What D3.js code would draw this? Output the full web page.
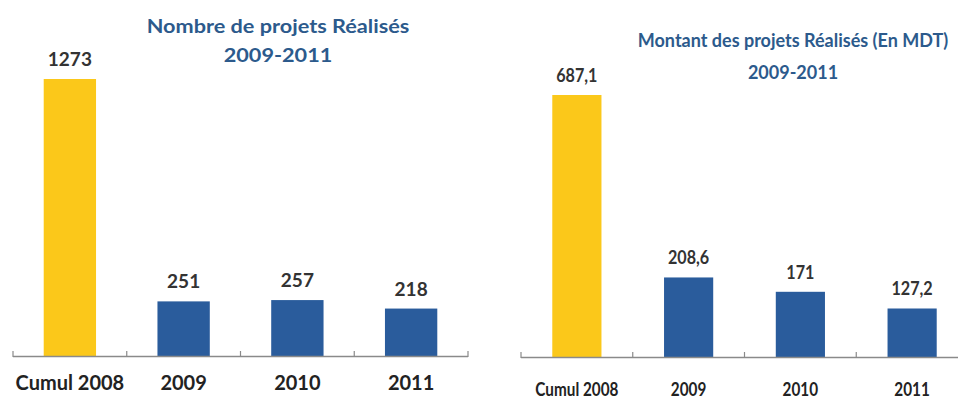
<!DOCTYPE html>
<html>
<head>
<meta charset="utf-8">
<script src="https://cdn.jsdelivr.net/npm/d3@7"></script>
<style>
  body { margin: 0; background: #fff; }
  svg { display: block; font-family: Lato, "Open Sans", sans-serif; font-weight: 700; }
</style>
</head>
<body>
<svg width="958" height="400"></svg>
<script>
const categories = ["Cumul 2008", "2009", "2010", "2011"];
const projectCounts = [1273, 251, 257, 218];
const projectAmounts = [687.1, 208.6, 171, 127.2];
const leftTitle = ["Nombre de projets Réalisés", "2009-2011"];
const rightTitle = ["Montant des projets Réalisés (En MDT)", "2009-2011"];

const yellow = "#fbc81a";
const blue = "#2a5c9c";
const titleColor = "#2c5a8c";

const fr = d3.formatLocale({ decimal: ",", thousands: " ", grouping: [3], currency: ["", ""] });
const fmt = fr.format("~f");

const svg = d3.select("svg");

// stretch / squeeze text horizontally by factor k
const squeeze = (sel, k) => {
  if (k === 1) return;
  sel.each(function () {
    const w = this.getComputedTextLength();
    d3.select(this).attr("textLength", w * k).attr("lengthAdjust", "spacingAndGlyphs");
  });
};

const drawChart = (cfg) => {
  const g = svg.append("g");

  const x = d3.scaleBand().domain(categories).range([cfg.x0, cfg.x1]);
  const y = d3.scaleLinear().domain([0, d3.max(cfg.values)]).range([cfg.base, cfg.top]);
  const barW = x.bandwidth() * cfg.barFrac;

  // bars
  g.selectAll("rect")
    .data(cfg.values)
    .enter()
    .append("rect")
    .attr("x", (d, i) => x(categories[i]) + (x.bandwidth() - barW) / 2)
    .attr("y", (d) => y(d))
    .attr("width", barW)
    .attr("height", (d) => cfg.base - y(d))
    .attr("fill", (d, i) => (i === 0 ? yellow : blue));

  // axis line + ticks
  g.append("line")
    .attr("x1", cfg.x0)
    .attr("x2", cfg.lineEnd)
    .attr("y1", cfg.base + 0.5)
    .attr("y2", cfg.base + 0.5)
    .attr("stroke", "#8a8a8a")
    .attr("stroke-width", 1.5);

  const tickPos = categories.map((c) => x(c)).concat([cfg.x1]);
  g.selectAll(".tick")
    .data(tickPos)
    .enter()
    .append("line")
    .attr("class", "tick")
    .attr("x1", (d) => d)
    .attr("x2", (d) => d)
    .attr("y1", cfg.base - 5)
    .attr("y2", cfg.base + 1)
    .attr("stroke", "#8a8a8a")
    .attr("stroke-width", 1.2);

  // value labels
  const vals = g.selectAll(".val")
    .data(cfg.values)
    .enter()
    .append("text")
    .attr("class", "val")
    .attr("x", (d, i) => x(categories[i]) + x.bandwidth() / 2)
    .attr("y", (d) => y(d) - 13)
    .attr("text-anchor", "middle")
    .attr("font-size", cfg.valSize)
    .attr("fill", "#333")
    .text((d) => fmt(d));
  squeeze(vals, cfg.squeeze);

  // category labels
  const cats = g.selectAll(".cat")
    .data(categories)
    .enter()
    .append("text")
    .attr("class", "cat")
    .attr("x", (d) => x(d) + x.bandwidth() / 2)
    .attr("y", cfg.catY)
    .attr("text-anchor", "middle")
    .attr("font-size", cfg.catSize)
    .attr("fill", "#222")
    .text((d) => d);
  squeeze(cats, cfg.squeeze);

  // title
  const t = g.selectAll(".title")
    .data(cfg.title)
    .enter()
    .append("text")
    .attr("class", "title")
    .attr("x", cfg.titleX)
    .attr("y", (d, i) => cfg.titleY + i * cfg.titleGap)
    .attr("text-anchor", "middle")
    .attr("font-size", cfg.titleSize)
    .attr("fill", titleColor)
    .text((d) => d);
  squeeze(t, cfg.titleSqueeze);
};

drawChart({
  values: projectCounts,
  title: leftTitle,
  x0: 13, x1: 468, lineEnd: 468,
  base: 356, top: 79,
  barFrac: 0.46,
  valSize: 19, catSize: 20, titleSize: 19,
  catY: 390,
  titleX: 278, titleY: 33, titleGap: 29,
  squeeze: 1, titleSqueeze: 1.14
});

drawChart({
  values: projectAmounts,
  title: rightTitle,
  x0: 521, x1: 968, lineEnd: 958,
  base: 357, top: 95,
  barFrac: 0.44,
  valSize: 19, catSize: 18, titleSize: 18,
  catY: 396,
  titleX: 793, titleY: 47, titleGap: 32,
  squeeze: 0.85, titleSqueeze: 1
});
</script>
</body>
</html>
